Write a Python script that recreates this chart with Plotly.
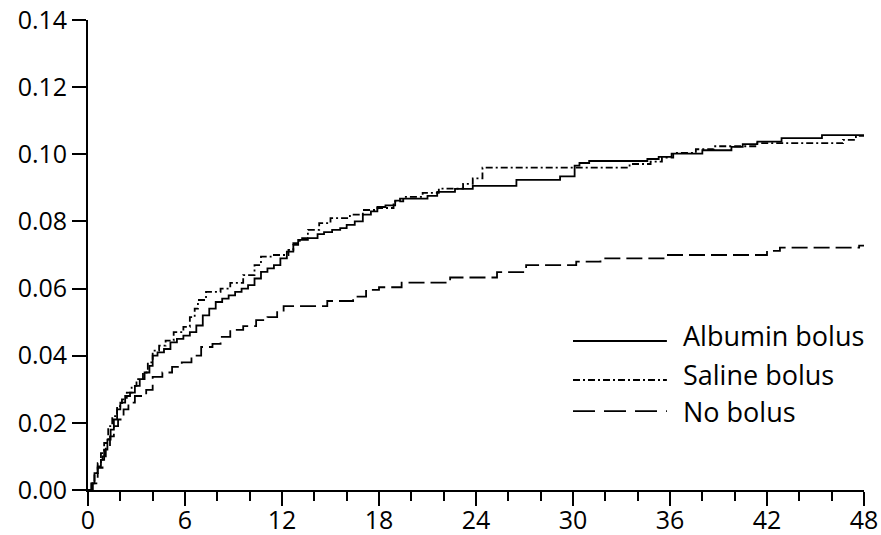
import plotly.graph_objects as go

# ---- data ----
albumin_t = [0, 0.2, 0.4, 0.6, 0.8, 1.0, 1.2, 1.4, 1.6, 1.8, 2.0, 2.3, 2.6, 2.9, 3.2, 3.5, 3.8, 4.0, 4.3, 4.7,
             5.1, 5.5, 5.9, 6.3, 6.7, 7.1, 7.5, 7.9, 8.3, 8.7, 9.1, 9.5, 9.9, 10.3, 10.7, 11.1, 11.5, 11.9,
             12.3, 12.7, 13.0, 13.6, 14.2, 14.6, 15.1, 15.6, 16.0, 16.5, 17.0, 17.5, 17.9, 18.4, 19.0, 19.3,
             21.0, 21.6, 22.7, 23.8, 26.5, 29.2, 30.1, 30.4, 31.0, 34.6, 35.3, 36.1, 38.0, 39.8, 40.5, 41.4,
             42.9, 45.4, 48]
albumin_v = [0, 0.002, 0.005, 0.007, 0.009, 0.012, 0.015, 0.018, 0.021, 0.024, 0.026, 0.028, 0.029, 0.031,
             0.033, 0.035, 0.037, 0.040, 0.041, 0.042, 0.044, 0.045, 0.046, 0.047, 0.049, 0.052, 0.054, 0.056,
             0.057, 0.058, 0.059, 0.060, 0.061, 0.063, 0.065, 0.066, 0.067, 0.069, 0.071, 0.073, 0.0745, 0.075,
             0.0762, 0.0768, 0.0775, 0.078, 0.079, 0.080, 0.082, 0.083, 0.0843, 0.0848, 0.0862, 0.0868, 0.0876,
             0.0888, 0.0897, 0.0906, 0.0924, 0.0934, 0.0966, 0.0974, 0.098, 0.0986, 0.0992, 0.1002, 0.1012,
             0.1022, 0.103, 0.1038, 0.1048, 0.1057, 0.1057]

saline_t = [0, 0.25, 0.4, 0.6, 0.8, 1.0, 1.25, 1.5, 1.8, 2.1, 2.4, 2.7, 3.0, 3.4, 3.7, 4.0, 4.4, 4.8, 5.3,
            5.9, 6.3, 6.6, 6.8, 7.3, 8.2, 8.8, 9.6, 10.3, 10.7, 11.3, 12.4, 12.7, 13.1, 13.6, 14.3, 15.0,
            16.2, 17.0, 17.9, 18.9, 19.5, 20.7, 21.7, 23.2, 23.8, 24.4, 33.5, 34.8, 35.5, 36.2, 37.6, 38.7,
            41.4, 46.7, 47.5, 48]
saline_v = [0, 0.002, 0.005, 0.008, 0.011, 0.014, 0.019, 0.022, 0.025, 0.027, 0.029, 0.031, 0.033, 0.035,
            0.038, 0.0415, 0.043, 0.0445, 0.047, 0.0486, 0.0515, 0.054, 0.0566, 0.059, 0.060, 0.0617, 0.064,
            0.067, 0.0695, 0.070, 0.0715, 0.0735, 0.075, 0.0775, 0.0795, 0.081, 0.082, 0.0834, 0.084, 0.086,
            0.0873, 0.0885, 0.0898, 0.0912, 0.0928, 0.096, 0.0971, 0.0978, 0.099, 0.1004, 0.1015, 0.1024,
            0.1033, 0.1043, 0.1055, 0.1055]

nobolus_t = [0, 0.3, 0.6, 0.9, 1.1, 1.36, 1.6, 1.86, 2.2, 2.5, 2.9, 3.6, 4.0, 4.6, 5.2, 5.8, 6.4, 7.0, 7.7,
             8.2, 8.8, 9.6, 10.4, 11.1, 11.7, 12.1, 14.8, 16.4, 17.2, 18.0, 19.4, 22.4, 25.3, 27.1, 30.2, 31.7,
             35.6, 42.0, 42.8, 47.7, 48]
nobolus_v = [0, 0.002, 0.0066, 0.010, 0.013, 0.016, 0.019, 0.021, 0.024, 0.026, 0.028, 0.0298, 0.0337,
             0.035, 0.0367, 0.038, 0.040, 0.0426, 0.0435, 0.0456, 0.0477, 0.0488, 0.0506, 0.0515, 0.053,
             0.0548, 0.0563, 0.0576, 0.0596, 0.0604, 0.0618, 0.0633, 0.0649, 0.067, 0.068, 0.069, 0.070,
             0.0712, 0.0722, 0.0728, 0.0728]

series_names = ["Albumin bolus", "Saline bolus", "No bolus"]
x_ticks = [0, 6, 12, 18, 24, 30, 36, 42, 48]
y_ticks = [0.00, 0.02, 0.04, 0.06, 0.08, 0.10, 0.12, 0.14]

FONT = "Open Sans, Noto Sans, DejaVu Sans, sans-serif"
styles = [
    dict(color="black", width=1.8, dash="solid"),
    dict(color="black", width=1.8, dash="7px,3px,2px,3px"),
    dict(color="black", width=1.8, dash="16px,6px"),
]
legend_dash = ["solid", "7px,3px,2px,3px", "22px,9px"]

fig = go.Figure()
for name, t, v, st in zip(series_names, [albumin_t, saline_t, nobolus_t],
                          [albumin_v, saline_v, nobolus_v], styles):
    fig.add_trace(go.Scatter(x=t, y=v, mode="lines", name=name, line=dict(shape="hv", **st),
                             showlegend=False))

# custom legend (long line samples as in the reference)
leg_line_y = [0.317, 0.234, 0.168]
leg_text_y = [0.328, 0.245, 0.166]
for name, ly, ty, dsh in zip(series_names, leg_line_y, leg_text_y, legend_dash):
    fig.add_shape(type="line", xref="paper", yref="paper", x0=0.625, x1=0.746, y0=ly, y1=ly,
                  line=dict(color="black", width=1.8, dash=dsh))
    fig.add_annotation(xref="paper", yref="paper", x=0.766, y=ty, text=name, showarrow=False,
                       xanchor="left", yanchor="middle", borderpad=0,
                       font=dict(family=FONT, size=27, color="black"))

fig.update_layout(
    width=881, height=535,
    margin=dict(l=88, r=17, t=20, b=45),
    paper_bgcolor="white", plot_bgcolor="white",
    font=dict(family=FONT, size=25, color="black"),
    showlegend=False,
)
fig.update_xaxes(
    range=[0, 48], tickvals=x_ticks, ticktext=[str(x) for x in x_ticks], automargin=False,
    showgrid=False, zeroline=False, showline=True, linecolor="black", linewidth=1.8,
    ticks="outside", ticklen=14, tickwidth=1.8, tickcolor="black", ticklabelstandoff=-7,
    tickfont=dict(family=FONT, size=25, color="black"),
    minor=dict(dtick=2, tick0=0, ticks="outside", ticklen=9, tickwidth=1.5, tickcolor="black", showgrid=False),
)
fig.update_yaxes(
    range=[0, 0.14], tickvals=y_ticks, ticktext=[f"{y:.2f}" for y in y_ticks], automargin=False,
    showgrid=False, zeroline=False, showline=True, linecolor="black", linewidth=1.8,
    ticks="outside", ticklen=14, tickwidth=1.8, tickcolor="black",
    tickfont=dict(family=FONT, size=25, color="black"),
)

# remove the default 8px page margin so the figure sits at the window's top-left corner
fig.write_html("out.html", config={"displayModeBar": False},
               post_script="document.body.style.margin='0px';")
